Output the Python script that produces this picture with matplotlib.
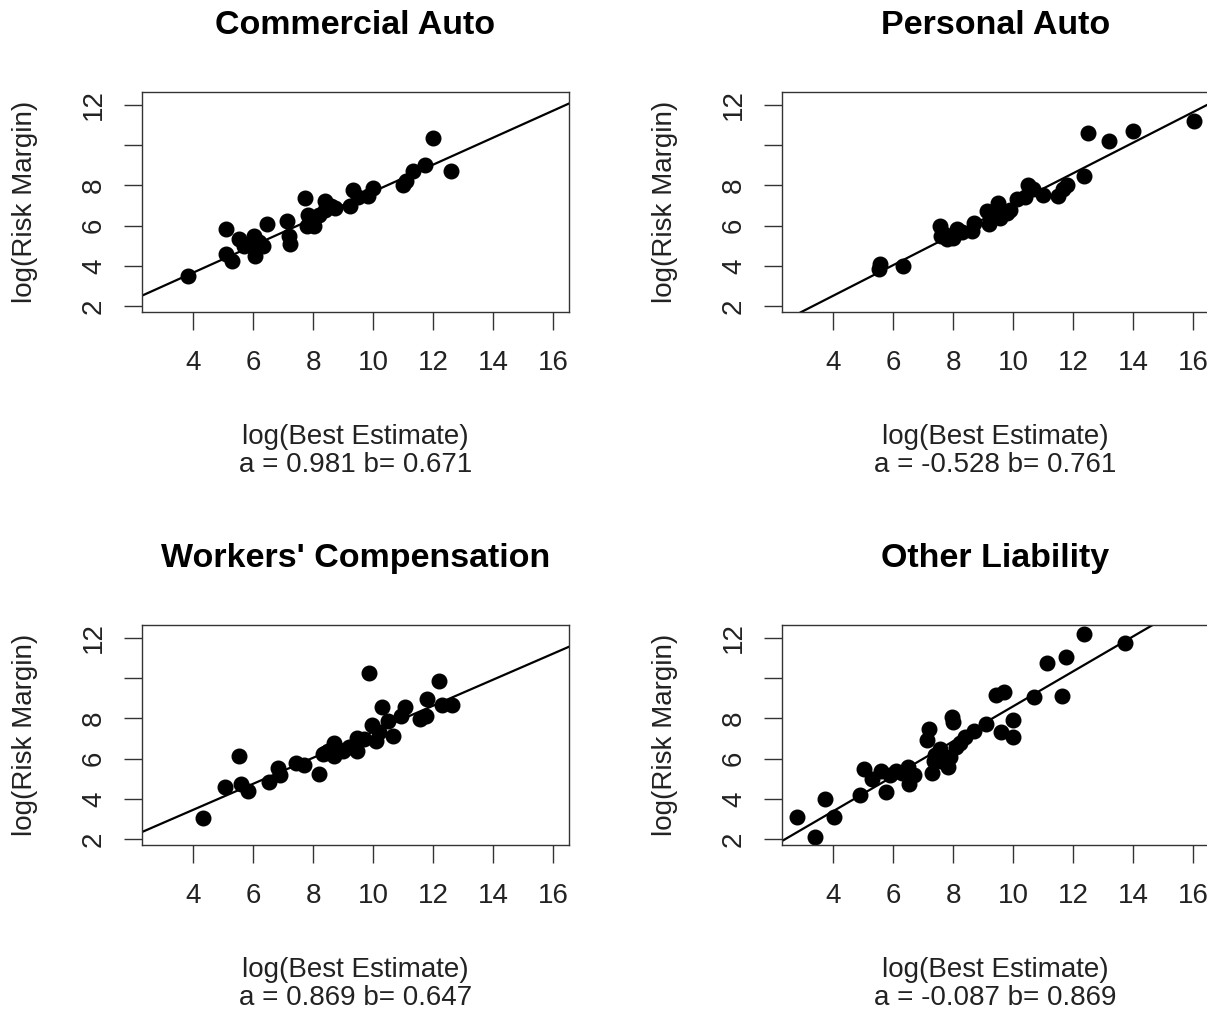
import numpy as np
import matplotlib.pyplot as plt

plt.rcParams['font.family'] = ['Liberation Sans', 'DejaVu Sans']

# Commercial Auto
ca_x = [3.84, 5.10, 5.10, 5.29, 5.51, 5.68, 6.01, 6.07, 6.07, 6.34, 6.46, 7.12, 7.23, 7.18,
        7.73, 7.79, 7.84, 8.01, 8.20, 8.40, 8.40, 8.73, 9.23, 9.34, 9.50, 9.84, 10.01,
        11.01, 11.10, 11.34, 11.73, 11.99, 12.59, 6.20, 7.90, 8.60]
ca_y = [3.50, 5.81, 4.57, 4.24, 5.32, 4.99, 5.48, 4.49, 4.82, 4.99, 6.06, 6.22, 5.07, 5.48,
        7.38, 5.98, 6.55, 5.98, 6.55, 7.21, 6.80, 6.89, 6.97, 7.79, 7.40, 7.46, 7.87,
        8.04, 8.20, 8.70, 9.03, 10.38, 8.70, 5.20, 6.30, 7.00]

# Personal Auto
pa_x = [5.51, 5.57, 6.34, 7.57, 7.60, 7.79, 8.12, 8.00, 8.62, 8.70, 9.12, 9.20, 9.51, 9.56,
        9.78, 10.12, 10.40, 10.51, 10.67, 11.01, 11.51, 11.67, 11.78, 12.37, 12.51, 13.18,
        14.01, 16.04, 7.70, 8.30, 9.30, 9.90]
pa_y = [3.83, 4.07, 3.99, 5.98, 5.48, 5.32, 5.81, 5.40, 5.73, 6.14, 6.72, 6.10, 7.13, 6.40,
        6.64, 7.30, 7.40, 8.04, 7.80, 7.54, 7.46, 7.80, 8.04, 8.49, 10.63, 10.22,
        10.73, 11.22, 5.60, 5.70, 6.50, 6.80]

# Workers' Compensation
wc_x = [4.34, 5.07, 5.51, 5.59, 5.84, 6.51, 6.81, 6.90, 7.43, 7.70, 8.18, 8.34, 8.50, 8.68,
        8.70, 8.98, 9.46, 9.46, 9.70, 9.86, 9.96, 10.10, 10.20, 10.29, 10.50, 10.66, 10.94,
        11.07, 11.57, 11.77, 11.79, 12.18, 12.29, 12.62, 8.40, 8.80, 9.20]
wc_y = [3.07, 4.59, 6.12, 4.75, 4.39, 4.85, 5.51, 5.20, 5.80, 5.70, 5.22, 6.21, 6.40, 6.79,
        6.15, 6.40, 7.03, 6.40, 7.00, 10.28, 7.69, 6.87, 7.30, 8.55, 7.85, 7.11, 8.10,
        8.55, 7.99, 8.10, 8.98, 9.84, 8.68, 8.68, 6.30, 6.50, 6.60]

# Other Liability
ol_x = [2.79, 3.40, 3.73, 4.03, 4.90, 5.01, 5.30, 5.60, 5.77, 6.10, 6.50, 6.54, 6.70, 7.12,
        7.20, 7.29, 7.35, 7.57, 7.84, 7.90, 7.96, 8.00, 8.23, 8.40, 8.70, 9.10, 9.43, 9.70,
        9.59, 10.00, 10.00, 10.68, 11.12, 11.62, 11.77, 12.37, 13.73,
        5.90, 6.30, 7.60, 8.10, 7.40]
ol_y = [3.12, 2.08, 4.01, 3.12, 4.18, 5.47, 5.00, 5.40, 4.34, 5.40, 5.60, 4.72, 5.20, 6.95,
        7.47, 5.30, 5.88, 6.50, 5.60, 6.10, 8.07, 7.80, 6.80, 7.10, 7.35, 7.74, 9.18, 9.29,
        7.31, 7.90, 7.10, 9.06, 10.74, 9.13, 11.04, 12.20, 11.77,
        5.20, 5.30, 5.90, 6.60, 6.20]

titles = ["Commercial Auto", "Personal Auto", "Workers' Compensation", "Other Liability"]
xs = [ca_x, pa_x, wc_x, ol_x]
ys = [ca_y, pa_y, wc_y, ol_y]
a_vals = [0.981, -0.528, 0.869, -0.087]
b_vals = [0.671, 0.761, 0.647, 0.869]

W, H = 1207, 1015
fig = plt.figure(figsize=(W / 100, H / 100), dpi=100)

# panel boxes in pixels: (left, top)
box_w, box_h = 427.3, 220.6
origins = [(141.7, 91.7), (781.7, 91.7), (141.7, 624.7), (781.7, 624.7)]

for i in range(4):
    left, top = origins[i]
    ax = fig.add_axes([left / W, 1 - (top + box_h) / H, box_w / W, box_h / H])
    ax.plot(xs[i], ys[i], 'o', color='black', ms=10.5)
    ax.axline((0, a_vals[i]), slope=b_vals[i], color='black', lw=1.6)

    ax.set_xlim(2.28, 16.53)
    ax.set_ylim(1.69, 12.66)
    ax.set_xticks([4, 6, 8, 10, 12, 14, 16])
    ax.set_yticks([2, 4, 6, 8, 10, 12])
    ax.set_yticklabels(['2', '4', '6', '8', '', '12'], rotation=90, va='center')
    ax.tick_params(length=13, width=1, labelsize=20, color='#333333', labelcolor='#222222')
    ax.tick_params(axis='x', pad=14)
    ax.tick_params(axis='y', pad=12)
    for s in ax.spines.values():
        s.set_linewidth(1.0)
        s.set_color('#333333')

    cx = left + box_w / 2
    fig.text(cx / W, 1 - (top - 66.7) / H, titles[i], ha='center', va='center',
             fontsize=24.5, fontweight='bold')
    fig.text(cx / W, 1 - (top + box_h + 124.7) / H, "log(Best Estimate)",
             ha='center', va='center', fontsize=20, color='#222222')
    fig.text(cx / W, 1 - (top + box_h + 152.7) / H,
             f"a = {a_vals[i]} b= {b_vals[i]}",
             ha='center', va='center', fontsize=20, color='#222222')
    fig.text((left - 116.7) / W, 1 - (top + box_h / 2) / H, "log(Risk Margin)",
             ha='center', va='center', rotation=90, fontsize=20, color='#222222')

fig.savefig("out.png", dpi=100)
